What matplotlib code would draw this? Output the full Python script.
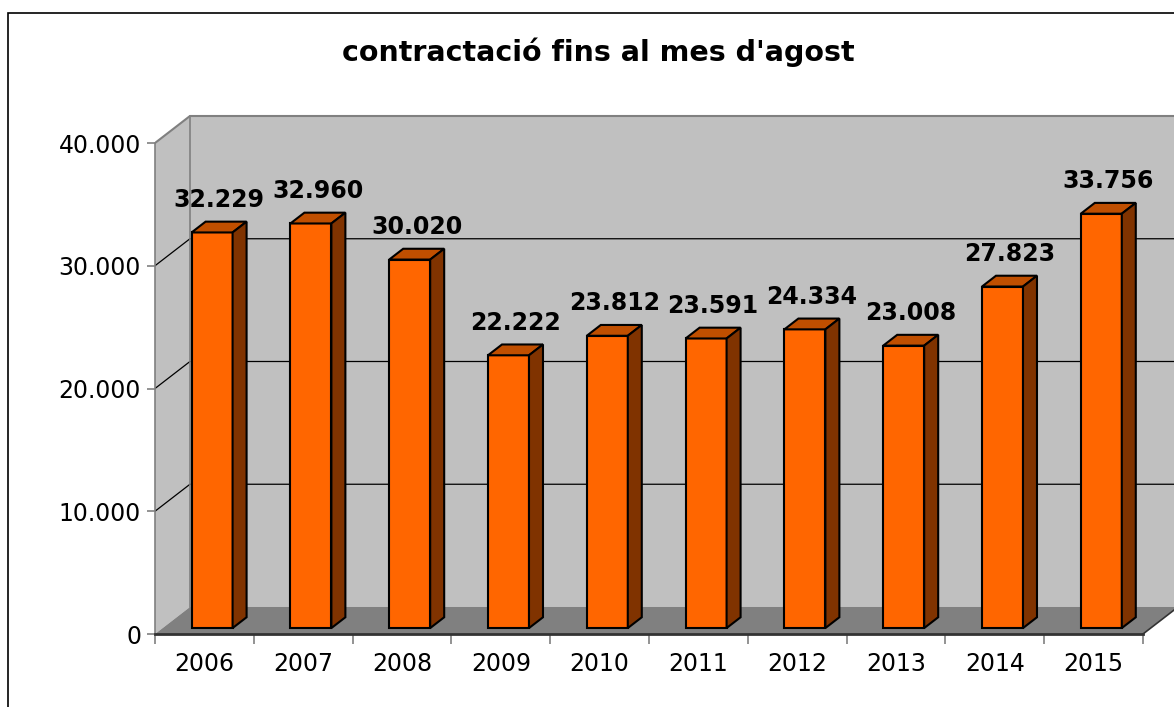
import matplotlib.pyplot as plt
from matplotlib.patches import Polygon, Rectangle
from matplotlib.ticker import FuncFormatter, FixedLocator

years = ['2006', '2007', '2008', '2009', '2010', '2011', '2012', '2013', '2014', '2015']
values = [32229, 32960, 30020, 22222, 23812, 23591, 24334, 23008, 27823, 33756]
y_ticks = [0, 10000, 20000, 30000, 40000]

TITLE = "contractació fins al mes d'agost"

# pseudo 3d depth (in data units)
DX = 0.354
DY = 2200
F0, F1 = 0.22, 0.62
BAR_W = 0.415
YMAX = 40000

FRONT = '#FF6600'
TOP = '#C04F00'
SIDE = '#803300'
WALL = '#C0C0C0'
FLOOR = '#808080'


def fmt(v, pos=None):
    return '{:,}'.format(int(v)).replace(',', '.')


fig = plt.figure(figsize=(11.74, 7.07), dpi=100)
ax = fig.add_axes([155 / 1174, 73 / 707, 10.6 * 98.8 / 1174, 43000 * 0.012275 / 707])
ax.set_xlim(0, 10.6)
ax.set_ylim(0, 43000)
ax.patch.set_visible(False)

n = len(years)

# walls and floor
ax.add_patch(Polygon([(DX, DY), (n + DX, DY), (n + DX, YMAX + DY), (DX, YMAX + DY)],
                     closed=True, facecolor=WALL, edgecolor='none', zorder=0))
ax.add_patch(Polygon([(0, 0), (0, YMAX), (DX, YMAX + DY), (DX, DY)],
                     closed=True, facecolor=WALL, edgecolor='none', zorder=0))
ax.add_patch(Polygon([(0, 0), (n, 0), (n + DX, DY), (DX, DY)],
                     closed=True, facecolor=FLOOR, edgecolor='none', zorder=0))

# gridlines on the walls
for v in y_ticks[1:-1]:
    ax.plot([0, DX, n + DX], [v, v + DY, v + DY], color='black', lw=0.9, zorder=1)
ax.plot([0, DX, n + DX], [YMAX, YMAX + DY, YMAX + DY], color='#808080', lw=1.5, zorder=1)
ax.plot([DX, DX], [DY, YMAX + DY], color='#808080', lw=1.2, zorder=1)
ax.plot([n, n + DX], [0, DY], color='#333333', lw=1.2, zorder=1)

# bars
xs = [i + 0.5 + F0 * DX for i in range(n)]
ax.bar(xs, values, width=BAR_W, bottom=F0 * DY, color=FRONT,
       edgecolor='black', linewidth=1.5, zorder=3)
dd = F1 - F0
for x, v in zip(xs, values):
    x0 = x - BAR_W / 2
    x1 = x + BAR_W / 2
    bot = F0 * DY
    top = v + F0 * DY
    ax.add_patch(Polygon([(x0, top), (x1, top), (x1 + dd * DX, top + dd * DY), (x0 + dd * DX, top + dd * DY)],
                         closed=True, facecolor=TOP, edgecolor='black', lw=1.5, zorder=3))
    ax.add_patch(Polygon([(x1, bot), (x1, top), (x1 + dd * DX, top + dd * DY), (x1 + dd * DX, bot + dd * DY)],
                         closed=True, facecolor=SIDE, edgecolor='black', lw=1.5, zorder=3))
    ax.annotate(fmt(v), (x + dd * DX / 2, top + dd * DY), xytext=(0, 7),
                textcoords='offset points', ha='center', va='bottom',
                fontsize=17, fontweight='bold', zorder=4)

# axes
for s in ['top', 'right']:
    ax.spines[s].set_visible(False)
ax.spines['left'].set_bounds(0, YMAX)
ax.spines['left'].set_color('#808080')
ax.spines['left'].set_linewidth(1.2)
ax.spines['bottom'].set_bounds(0, n)
ax.spines['bottom'].set_color('#333333')
ax.spines['bottom'].set_linewidth(2)

ax.set_yticks(y_ticks)
ax.yaxis.set_major_formatter(FuncFormatter(fmt))
ax.tick_params(axis='y', length=6, width=1.2, color='#808080', labelsize=17, pad=4)

ax.set_xticks([i + 0.5 for i in range(n)])
ax.set_xticklabels(years)
ax.xaxis.set_minor_locator(FixedLocator(list(range(n + 1))))
ax.tick_params(axis='x', which='major', length=0, labelsize=17, pad=13)
ax.tick_params(axis='x', which='minor', length=7, width=1.2, color='#808080')

# outer frame
fig.add_artist(Rectangle((8 / 1174, -0.1), 1.2, 1.1 - 13 / 707, transform=fig.transFigure,
                         facecolor='none', edgecolor='black', lw=1.2))

fig.text(598 / 1174, 1 - 52 / 707, TITLE, ha='center', va='center',
         fontsize=20.5, fontweight='bold')

fig.savefig('out.png', dpi=100)
